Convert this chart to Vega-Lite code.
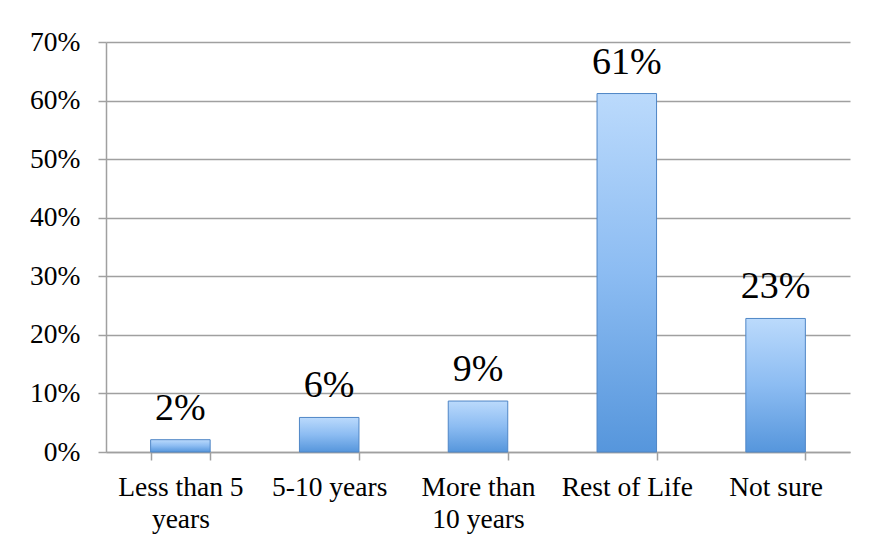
{
  "$schema": "https://vega.github.io/schema/vega-lite/v6.json",
  "autosize": "none",
  "width": 744,
  "height": 410,
  "padding": {"left": 106, "top": 42, "right": 23, "bottom": 96},
  "background": "white",
  "config": {
    "view": {"stroke": null},
    "font": "Liberation Serif"
  },
  "data": {
    "values": [
      {"cat": "Less than 5|years", "value": 0.021, "label": "2%"},
      {"cat": "5-10 years", "value": 0.059, "label": "6%"},
      {"cat": "More than|10 years", "value": 0.087, "label": "9%"},
      {"cat": "Rest of Life", "value": 0.612, "label": "61%"},
      {"cat": "Not sure", "value": 0.228, "label": "23%"}
    ]
  },
  "encoding": {
    "x": {
      "field": "cat",
      "type": "nominal",
      "sort": null,
      "scale": {"paddingInner": 0.6, "paddingOuter": 0.3},
      "axis": {
        "title": null,
        "labelAngle": 0,
        "labelExpr": "isValid(datum.value) ? split(datum.value, '|') : ''",
        "labelFont": "Liberation Serif",
        "labelFontSize": 27.5,
        "labelColor": "black",
        "labelLineHeight": 32,
        "labelBaseline": "top",
        "labelPadding": 13,
        "labelOverlap": false,
        "tickBand": "extent",
        "tickSize": 8,
        "tickColor": "#a0a0a0",
        "tickWidth": 1.5,
        "domainColor": "#a0a0a0",
        "domainWidth": 1.5
      }
    },
    "y": {
      "field": "value",
      "type": "quantitative",
      "scale": {"domain": [0, 0.7], "nice": false},
      "axis": {
        "title": null,
        "format": ".0%",
        "values": [0, 0.1, 0.2, 0.3, 0.4, 0.5, 0.6, 0.7],
        "labelFont": "Liberation Serif",
        "labelFontSize": 27.5,
        "labelColor": "black",
        "labelPadding": 18,
        "tickSize": 8,
        "tickColor": "#a0a0a0",
        "tickWidth": 1.5,
        "grid": true,
        "gridColor": "#a0a0a0",
        "gridWidth": 1.5,
        "domainColor": "#a0a0a0",
        "domainWidth": 1.5
      }
    }
  },
  "layer": [
    {
      "mark": {
        "type": "bar",
        "stroke": "#4f86c6",
        "strokeWidth": 1,
        "fill": {
          "gradient": "linear",
          "x1": 0, "y1": 0, "x2": 0, "y2": 1,
          "stops": [
            {"offset": 0, "color": "#bbdafc"},
            {"offset": 0.5, "color": "#8cbcf2"},
            {"offset": 1, "color": "#5696dc"}
          ]
        }
      }
    },
    {
      "mark": {
        "type": "text",
        "baseline": "alphabetic",
        "dy": -20,
        "fontSize": 38,
        "font": "Liberation Serif",
        "color": "black"
      },
      "encoding": {"text": {"field": "label"}}
    }
  ]
}
